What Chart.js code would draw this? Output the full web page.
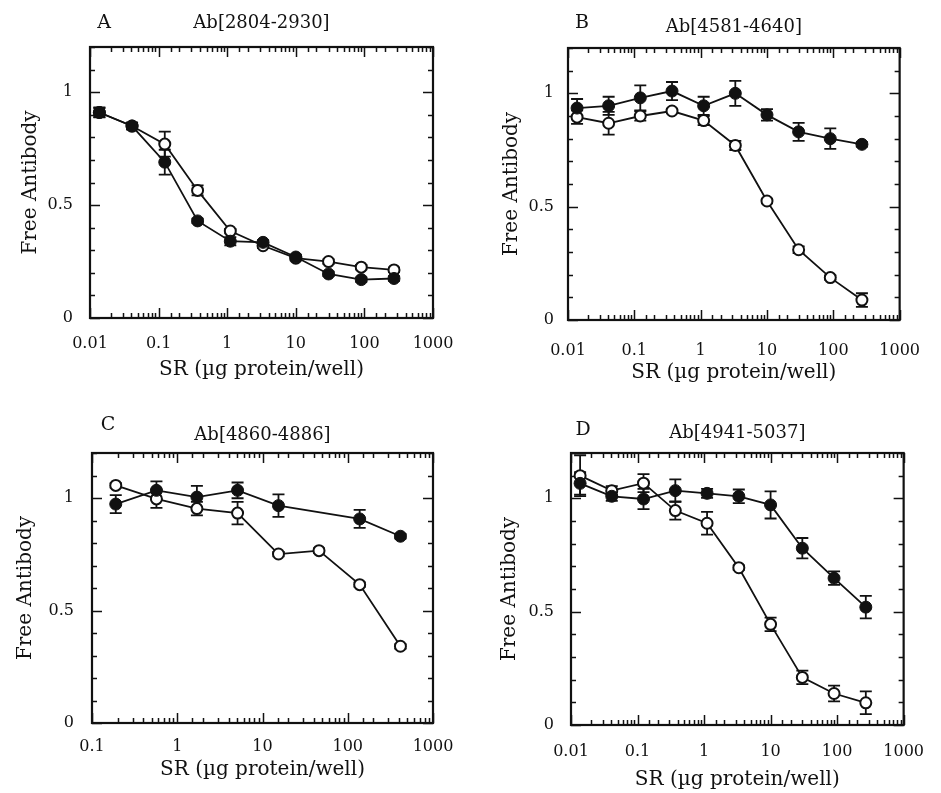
<!DOCTYPE html>
<html>
<head>
<meta charset="utf-8">
<script src="https://cdn.jsdelivr.net/npm/chart.js@4.4.0/dist/chart.umd.min.js"></script>
<style>
  html, body { margin: 0; padding: 0; background: #fff; }
  #fig { position: relative; width: 941px; height: 793px; overflow: hidden; }
  .panel { position: absolute; }
</style>
</head>
<body>
<div id="fig">
  <div class="panel" style="left:0;top:0;width:470px;height:400px"><canvas id="cA"></canvas></div>
  <div class="panel" style="left:470px;top:0;width:471px;height:400px"><canvas id="cB"></canvas></div>
  <div class="panel" style="left:0;top:400px;width:470px;height:393px"><canvas id="cC"></canvas></div>
  <div class="panel" style="left:470px;top:400px;width:471px;height:393px"><canvas id="cD"></canvas></div>
</div>
<script>
// --- doses (µg protein / well), 3-fold dilutions ---
const dosesABD = [0.0137, 0.041, 0.123, 0.37, 1.11, 3.33, 10, 30, 90, 270];
const dosesC = [0.19, 0.57, 1.7, 5.1, 15.4, 46, 138, 415];

// --- panel A: Ab[2804-2930] ---
const filledA = [0.91, 0.85, 0.69, 0.43, 0.34, 0.335, 0.27, 0.195, 0.17, 0.175];
const filledErrA = [0.022, 0.015, 0.055, 0.01, 0.018, 0.01, 0.01, 0.01, 0.01, 0.01];
const openA = [0.91, 0.85, 0.77, 0.565, 0.385, 0.32, 0.265, 0.25, 0.225, 0.213];
const openErrA = [0.02, 0.015, 0.055, 0.022, 0.01, 0.01, 0.01, 0.01, 0.01, 0.01];

// --- panel B: Ab[4581-4640] ---
const filledB = [0.935, 0.945, 0.98, 1.01, 0.945, 1.0, 0.905, 0.83, 0.80, 0.775];
const filledErrB = [0.04, 0.04, 0.055, 0.04, 0.04, 0.055, 0.025, 0.04, 0.045, 0.01];
const openB = [0.895, 0.868, 0.90, 0.922, 0.88, 0.77, 0.525, 0.31, 0.187, 0.088];
const openErrB = [0.03, 0.05, 0.02, 0.01, 0.02, 0.02, 0.01, 0.015, 0.01, 0.03];

// --- panel C: Ab[4860-4886] ---
const filledC = [0.973, 1.034, 1.004, 1.034, 0.966, null, 0.907, 0.83];
const filledErrC = [0.04, 0.04, 0.05, 0.035, 0.05, 0, 0.04, 0.01];
const openC = [1.056, 0.996, 0.953, 0.933, 0.751, 0.766, 0.615, 0.341];
const openErrC = [0.01, 0.04, 0.03, 0.05, 0.01, 0.01, 0.01, 0.01];

// --- panel D: Ab[4941-5037] ---
const filledD = [1.066, 1.009, 0.997, 1.034, 1.022, 1.009, 0.971, 0.78, 0.648, 0.52];
const filledErrD = [0.05, 0.02, 0.045, 0.05, 0.02, 0.03, 0.06, 0.045, 0.03, 0.05];
const openD = [1.10, 1.034, 1.067, 0.946, 0.89, 0.694, 0.444, 0.21, 0.139, 0.098];
const openErrD = [0.09, 0.02, 0.04, 0.04, 0.05, 0.01, 0.03, 0.03, 0.035, 0.05];

// axis
const yMajor = [0, 0.5, 1];
const xTitle = "SR (µg protein/well)";
const yTitle = "Free Antibody";

const ink = "#111";
const serif = "'DejaVu Serif', serif";

function isPow10(v) {
  const e = Math.log10(v);
  return Math.abs(e - Math.round(e)) < 1e-6;
}

// frame, inward ticks, error bars and panel letter
const framePlugin = {
  id: "frame",
  beforeDatasetsDraw(chart, args, opts) {
    const ctx = chart.ctx;
    const { left, right, top, bottom } = chart.chartArea;
    const xs = chart.scales.x, ys = chart.scales.y;
    ctx.save();
    ctx.strokeStyle = ink;
    ctx.lineWidth = 1.5;
    ctx.beginPath();
    xs.ticks.forEach(t => {
      const px = Math.round(xs.getPixelForValue(t.value)) + 0.5;
      const len = isPow10(t.value) ? 10 : 5;
      ctx.moveTo(px, bottom); ctx.lineTo(px, bottom - len);
      ctx.moveTo(px, top); ctx.lineTo(px, top + len);
    });
    ys.ticks.forEach(t => {
      const py = Math.round(ys.getPixelForValue(t.value)) + 0.5;
      const major = yMajor.some(m => Math.abs(m - t.value) < 1e-6);
      const len = major ? 10 : 5;
      ctx.moveTo(left, py); ctx.lineTo(left + len, py);
      ctx.moveTo(right, py); ctx.lineTo(right - len, py);
    });
    ctx.stroke();

    ctx.lineWidth = 2.2;
    ctx.strokeRect(left, top, right - left, bottom - top);

    // error bars, behind the markers
    ctx.lineWidth = 1.8;
    chart.data.datasets.forEach(ds => {
      ds.data.forEach((p, j) => {
        const e = ds.errors[j];
        if (p.y == null || !e) return;
        const px = xs.getPixelForValue(p.x);
        const y1 = ys.getPixelForValue(p.y + e);
        const y2 = ys.getPixelForValue(p.y - e);
        ctx.beginPath();
        ctx.moveTo(px, y1); ctx.lineTo(px, y2);
        ctx.moveTo(px - 6, y1); ctx.lineTo(px + 6, y1);
        ctx.moveTo(px - 6, y2); ctx.lineTo(px + 6, y2);
        ctx.stroke();
      });
    });

    ctx.fillStyle = ink;
    ctx.font = "19px " + serif;
    ctx.textAlign = "center";
    ctx.textBaseline = "middle";
    ctx.fillText(opts.letter, opts.letterX, opts.letterY);
    ctx.restore();
  }
};

function pts(xs, ys) {
  return xs.map((x, i) => ({ x: x, y: ys[i] }));
}

function makePanel(id, g, title, doses, filled, filledErr, open, openErr) {
  const H = g.H;
  new Chart(document.getElementById(id), {
    type: "line",
    data: {
      datasets: [
        {
          data: pts(doses, filled), errors: filledErr,
          borderColor: ink, borderWidth: 1.8, backgroundColor: ink,
          pointBackgroundColor: ink, pointBorderColor: ink,
          pointRadius: 6, pointBorderWidth: 1, spanGaps: true, tension: 0
        },
        {
          data: pts(doses, open), errors: openErr,
          borderColor: ink, borderWidth: 1.8, backgroundColor: "#fff",
          pointBackgroundColor: "#fff", pointBorderColor: ink,
          pointRadius: 5.5, pointBorderWidth: 2, spanGaps: true, tension: 0
        }
      ]
    },
    options: {
      responsive: true,
      maintainAspectRatio: false,
      animation: false,
      layout: { padding: { left: 0, top: 0, bottom: 0, right: g.W - g.R } },
      scales: {
        x: {
          type: "logarithmic",
          min: g.xmin, max: 1000,
          grid: { display: false, drawTicks: false },
          border: { display: false },
          ticks: {
            autoSkip: false, maxRotation: 0, padding: g.padX,
            color: ink, font: { family: serif, size: 16 },
            callback: v => {
              if (!isPow10(v)) return "";
              const e = Math.round(Math.log10(v));
              return e < 0 ? v.toFixed(-e) : String(Math.round(v));
            }
          },
          title: {
            display: true, text: xTitle, color: ink,
            font: { family: serif, size: 20 },
            padding: { top: 0, bottom: H - g.xTitleY - 12 }
          },
          afterFit: s => { s.height = H - g.B; }
        },
        y: {
          min: 0, max: 1.2,
          grid: { display: false, drawTicks: false },
          border: { display: false },
          ticks: {
            stepSize: 0.1, autoSkip: false, padding: g.padY,
            color: ink, font: { family: serif, size: 16 },
            callback: v => {
              const m = yMajor.find(m => Math.abs(m - v) < 1e-6);
              return m === undefined ? "" : String(m);
            }
          },
          title: {
            display: true, text: yTitle, color: ink,
            font: { family: serif, size: 20 },
            padding: { top: g.yTitleX - 12, bottom: 0 }
          },
          afterFit: s => { s.width = g.L; }
        }
      },
      plugins: {
        legend: { display: false },
        tooltip: { enabled: false },
        title: {
          display: true, text: title, color: ink, fullSize: false,
          font: { family: serif, size: 18, weight: "normal", lineHeight: 1.2 },
          padding: { top: g.titleY - 10.8, bottom: g.T - g.titleY - 10.8 }
        },
        frame: { letter: g.letter, letterX: g.letterX, letterY: g.letterY }
      }
    },
    plugins: [framePlugin]
  });
}

makePanel("cA",
  { W: 470, H: 400, L: 90, R: 433, T: 47, B: 318, xmin: 0.01, padX: 16, padY: 17,
    titleY: 23, letter: "A", letterX: 104, letterY: 23, xTitleY: 370, yTitleX: 31 },
  "Ab[2804-2930]", dosesABD, filledA, filledErrA, openA, openErrA);

makePanel("cB",
  { W: 471, H: 400, L: 98, R: 438, T: 48, B: 320, xmin: 0.01, padX: 21, padY: 14,
    titleY: 27, letter: "B", letterX: 112, letterY: 23, xTitleY: 373, yTitleX: 42 },
  "Ab[4581-4640]", dosesABD, filledB, filledErrB, openB, openErrB);

makePanel("cC",
  { W: 470, H: 393, L: 92, R: 433, T: 53, B: 323, xmin: 0.1, padX: 14, padY: 18,
    titleY: 35, letter: "C", letterX: 108, letterY: 25, xTitleY: 370, yTitleX: 26 },
  "Ab[4860-4886]", dosesC, filledC, filledErrC, openC, openErrC);

makePanel("cD",
  { W: 471, H: 393, L: 101, R: 439, T: 53, B: 325, xmin: 0.01, padX: 17, padY: 17,
    titleY: 33, letter: "D", letterX: 113, letterY: 30, xTitleY: 380, yTitleX: 40 },
  "Ab[4941-5037]", dosesABD, filledD, filledErrD, openD, openErrD);
</script>
</body>
</html>
